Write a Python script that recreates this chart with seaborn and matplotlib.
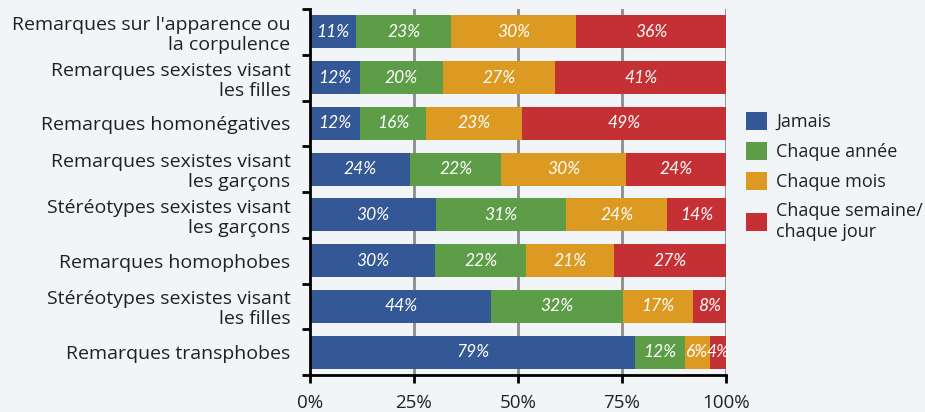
import matplotlib
matplotlib.use("Agg")
import matplotlib.pyplot as plt
from matplotlib.patches import Patch
import seaborn as sns
import pandas as pd
import numpy as np

categories = [
    "Remarques sur l'apparence ou\nla corpulence",
    "Remarques sexistes visant\nles filles",
    "Remarques homonégatives",
    "Remarques sexistes visant\nles garçons",
    "Stéréotypes sexistes visant\nles garçons",
    "Remarques homophobes",
    "Stéréotypes sexistes visant\nles filles",
    "Remarques transphobes",
]
series_names = ["Jamais", "Chaque année", "Chaque mois", "Chaque semaine/\nchaque jour"]
jamais = [11, 12, 12, 24, 30, 30, 44, 79]
chaque_annee = [23, 20, 16, 22, 31, 22, 32, 12]
chaque_mois = [30, 27, 23, 30, 24, 21, 17, 6]
chaque_semaine = [36, 41, 49, 24, 14, 27, 8, 4]
colors = ["#345896", "#5e9d48", "#dc9a22", "#c43034"]
x_ticks = [0, 25, 50, 75, 100]
x_tick_labels = ["0%", "25%", "50%", "75%", "100%"]

BG = "#f2f5f8"
FONT = ["Open Sans", "DejaVu Sans"]
BAR_FONT = ["Lato", "DejaVu Sans"]

sns.set_theme(style="white")
plt.rcParams["font.family"] = FONT
plt.rcParams["text.color"] = "#231f20"

vals = np.array([jamais, chaque_annee, chaque_mois, chaque_semaine], dtype=float)
shares = vals / vals.sum(axis=0) * 100  # bars fill the full 100% width
cum = np.cumsum(shares, axis=0)

fig = plt.figure(figsize=(9.25, 4.12), dpi=100, facecolor=BG)
ax = fig.add_axes([310 / 925, 37 / 412, 416 / 925, 366 / 412])
ax.set_facecolor(BG)

# gridlines under bars
for xv in x_ticks[1:]:
    ax.axvline(xv, color="#8c8c8c", lw=2, zorder=0)

# stacked bars: overlay cumulative totals, largest first
for i in range(3, -1, -1):
    df = pd.DataFrame({"cat": categories, "val": cum[i]})
    sns.barplot(data=df, x="val", y="cat", order=categories, color=colors[i],
                saturation=1, width=0.72, ax=ax, zorder=2, linewidth=0)

# labels
for i in range(4):
    for j in range(len(categories)):
        start = cum[i - 1][j] if i > 0 else 0
        center = start + shares[i][j] / 2
        ax.text(center, j, f"{int(vals[i][j])}%", color="white", ha="center",
                va="center", fontsize=12.5, fontstyle="italic", zorder=3,
                family=BAR_FONT)

ax.set_xlim(0, 100)
ax.set_ylim(len(categories) - 0.5, -0.5)
ax.set_xlabel("")
ax.set_ylabel("")
ax.set_xticks(x_ticks)
ax.set_xticklabels(x_tick_labels, fontsize=13.5)
ax.set_yticks(range(len(categories)))
ax.set_yticklabels(categories, fontsize=14, ha="right", multialignment="right",
                   linespacing=1.15)
ax.set_yticks(np.arange(-0.5, len(categories), 1), minor=True)
ax.tick_params(axis="y", which="major", length=0, pad=14, colors="#231f20")
ax.tick_params(axis="y", which="minor", length=6, width=2, color="black", left=True)
ax.tick_params(axis="x", which="major", length=6, width=2, color="black",
               bottom=True, pad=8, colors="#231f20")
for s in ["top", "right"]:
    ax.spines[s].set_visible(False)
for s in ["left", "bottom"]:
    ax.spines[s].set_color("black")
    ax.spines[s].set_linewidth(2)
    ax.spines[s].set_zorder(4)

handles = [Patch(facecolor=c, edgecolor="none") for c in colors]
leg = fig.legend(handles, series_names, loc="upper left",
                 bbox_to_anchor=(746 / 925, 1 - 112 / 412), frameon=False,
                 fontsize=13, handlelength=1.17, handleheight=1.17,
                 labelspacing=0.6, handletextpad=0.5, borderpad=0,
                 borderaxespad=0)

fig.savefig("out.png", dpi=100, facecolor=BG)
